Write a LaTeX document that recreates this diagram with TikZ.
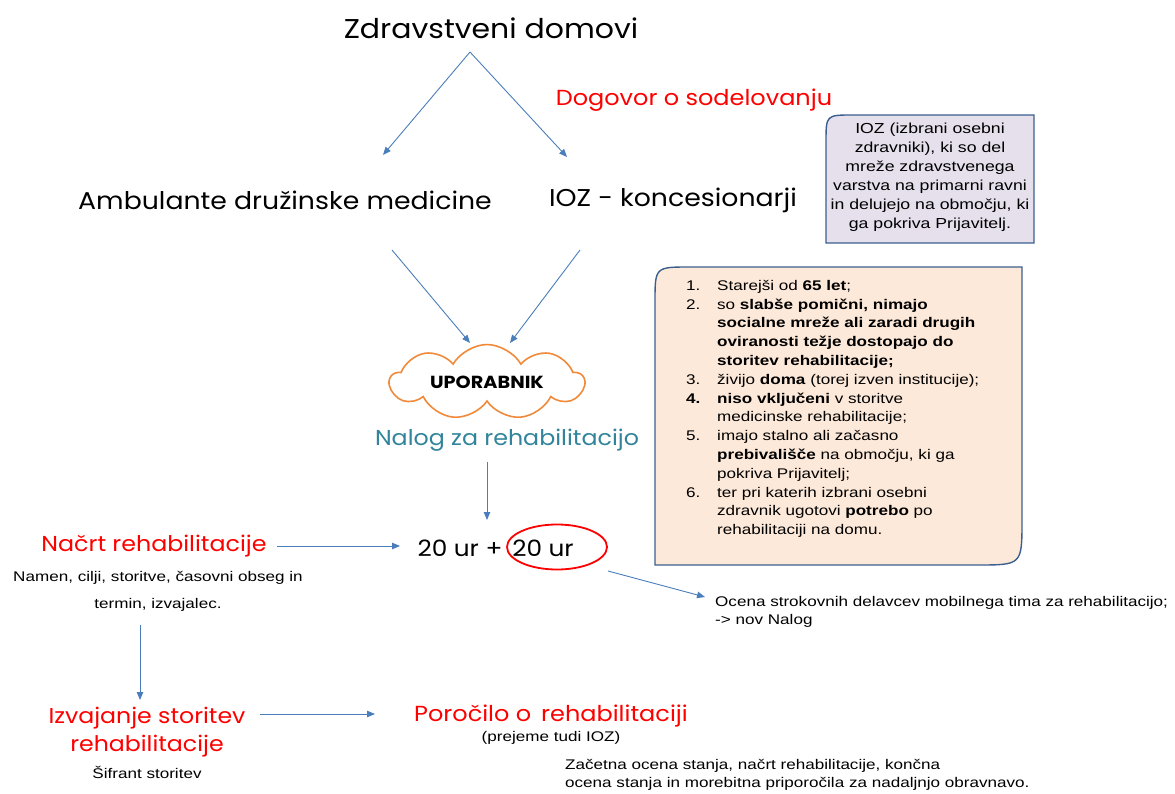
\documentclass[tikz,border=0pt]{standalone}
\usepackage{fontspec}
\setmainfont[FakeStretch=1.22]{Liberation Sans}
\newfontfamily\gothic[FakeStretch=1.1]{Poppins}
\usetikzlibrary{arrows.meta,shapes.symbols,shapes.geometric}
\definecolor{arrblue}{HTML}{4A7EBB}
\definecolor{boxline}{HTML}{3B5F8E}
\definecolor{lav}{HTML}{E6E0EC}
\definecolor{peach}{HTML}{FDE9D9}
\definecolor{teal}{HTML}{31849B}
\definecolor{cloudor}{HTML}{F08A3A}
\begin{document}
\begin{tikzpicture}[x=1pt,y=-1pt,
  arr/.style={draw=arrblue, line width=0.9pt, -{Triangle[length=8pt,width=6.5pt]}},
  bigtxt/.style={font=\gothic\fontsize{27.2}{32}\selectfont, text=black, inner sep=0pt},
  midtxt/.style={font=\gothic\fontsize{24.3}{28}\selectfont, text=black, inner sep=0pt},
  redtxt/.style={font=\gothic\fontsize{21.8}{28}\selectfont, text=red, inner sep=0pt, align=center},
  smalltxt/.style={font=\fontsize{14}{18}\selectfont, text=black, inner sep=0pt},
  panel/.style={draw=boxline, line width=1.4pt}
]
\useasboundingbox (0,0) rectangle (1175,794);

% top
\node[bigtxt] (zd) at (491,28) {Zdravstveni domovi};
\node[redtxt] (dog) at (694,100) {Dogovor o sodelovanju};
\node[midtxt] (amb) at (285,200) {Ambulante družinske medicine};
\node[midtxt] (ioz) at (673,200) {IOZ - koncesionarji};

\coordinate (zdout) at (470,52);
\coordinate (ambin) at (383,155);
\coordinate (iozin) at (567,157);
\draw[arr] (zdout) -- (ambin);
\draw[arr] (zdout) -- (iozin);

% box 1
\draw[panel, fill=lav] (826,243) -- (826,142) .. controls (826,115) .. (853,115) -- (1034,115) -- (1034,243) -- cycle;
\node[smalltxt, font=\fontsize{14.5}{19}\selectfont, align=center] (b1) at (930,177)
 {IOZ (izbrani osebni\\zdravniki), ki so del\\mreže zdravstvenega\\varstva na primarni ravni\\in delujejo na območju, ki\\ga pokriva Prijavitelj.};

% cloud
\node[cloud, cloud puffs=9, cloud puff arc=120, aspect=3.5, draw=cloudor, line width=1.6pt, fill=white,
  minimum width=194pt, minimum height=56pt, inner sep=0pt, font=\gothic\bfseries\fontsize{17.5}{20}\selectfont] (up) at (487,382) {UPORABNIK};
\coordinate (ambout) at (392,250);
\coordinate (iozout) at (580,250);
\coordinate (upin1) at (470,343);
\coordinate (upin2) at (510,343);
\draw[arr] (ambout) -- (upin1);
\draw[arr] (iozout) -- (upin2);

\node[redtxt, text=teal, font=\gothic\fontsize{21.6}{28}\selectfont] (nalog) at (507,440) {Nalog za rehabilitacijo};

% box 2
\draw[panel, fill=peach] (655,565) -- (655,302) .. controls (655,267) .. (690,267) -- (1022,267) -- (1022,520) .. controls (1022,565) .. (977,565) -- cycle;
\node[smalltxt, anchor=north west, font=\fontsize{14}{18.8}\selectfont] (b2) at (686,277) {%
\begin{tabular}{@{}p{31pt}@{}l@{}}
1. & Starejši od \textbf{65 let};\\
2. & so \textbf{slabše pomični, nimajo}\\
 & \textbf{socialne mreže ali zaradi drugih}\\
 & \textbf{oviranosti težje dostopajo do}\\
 & \textbf{storitev rehabilitacije;}\\
3. & živijo \textbf{doma} (torej izven institucije);\\
\textbf{4.} & \textbf{niso vključeni} v storitve\\
 & medicinske rehabilitacije;\\
5. & imajo stalno ali začasno\\
 & \textbf{prebivališče} na območju, ki ga\\
 & pokriva Prijavitelj;\\
6. & ter pri katerih izbrani osebni\\
 & zdravnik ugotovi \textbf{potrebo} po\\
 & rehabilitaciji na domu.
\end{tabular}};

% middle row
\node[midtxt, font=\gothic\fontsize{22.5}{28}\selectfont] (ur1) at (460,548) {20 ur +};
\node[midtxt, font=\gothic\fontsize{22.5}{28}\selectfont] (ur2) at (543,548) {20 ur};
\node[ellipse, draw=red, line width=1.8pt, minimum width=100pt, minimum height=45pt, inner sep=0pt] (ring) at (557,547) {};
\coordinate (urin) at (487,520);
\coordinate (nalogout) at (487,462);
\draw[arr] (nalogout) -- (urin);

\node[redtxt, font=\gothic\fontsize{21.6}{28}\selectfont] (nacrt) at (154,546) {Načrt rehabilitacije};
\node[smalltxt, align=center, font=\fontsize{14}{27}\selectfont] (namen) at (158,591) {Namen, cilji, storitve, časovni obseg in\\termin, izvajalec.};
\coordinate (nacrtout) at (277,546);
\coordinate (urleft) at (400,546);
\draw[arr] (nacrtout) -- (urleft);

\node[smalltxt, anchor=west, align=left] (ocena) at (715,612) {Ocena strokovnih delavcev mobilnega tima za rehabilitacijo;\\-> nov Nalog};
\coordinate (urout) at (608,571);
\coordinate (ocenain) at (705,597);
\draw[arr] (urout) -- (ocenain);

% bottom
\coordinate (namenout) at (140,625);
\coordinate (izvin) at (140,700);
\draw[arr] (namenout) -- (izvin);
\node[redtxt, font=\gothic\fontsize{21.5}{28}\selectfont] (izv) at (147,732) {Izvajanje storitev\\rehabilitacije};
\node[smalltxt] (sif) at (147,772) {Šifrant storitev};
\coordinate (izvout) at (260,714);
\coordinate (porin) at (375,714);
\draw[arr] (izvout) -- (porin);
\node[redtxt] (por) at (551,716) {Poročilo o\, rehabilitaciji};
\node[smalltxt] (prej) at (551,738) {(prejeme tudi IOZ)};
\node[smalltxt, anchor=west, align=left] (zac) at (565,775) {Začetna ocena stanja, načrt rehabilitacije, končna\\ocena stanja in morebitna priporočila za nadaljnjo obravnavo.};
\end{tikzpicture}
\end{document}
